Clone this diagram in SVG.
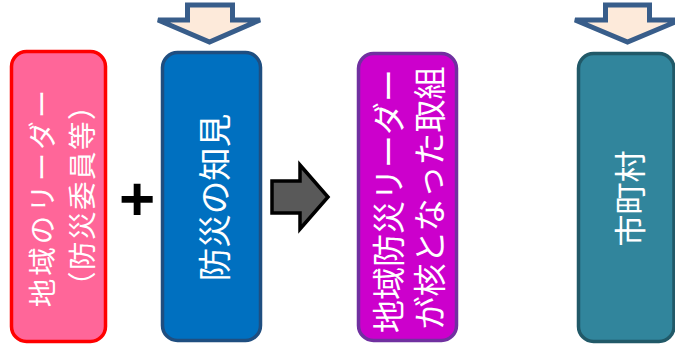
<svg xmlns="http://www.w3.org/2000/svg" width="675" height="356" viewBox="0 0 675 356">
<style>
.box{stroke-width:3.5}
.t{font-family:"Noto Sans CJK JP","Noto Sans",sans-serif;fill:#fff;text-anchor:middle;dominant-baseline:central}
.down{fill:#FDEADA;stroke:#385D8A;stroke-width:5;stroke-linejoin:miter}
</style>
<rect width="675" height="356" fill="#fff"/>
<g id="connectors">
<path class="down" d="M187.5,5 H232.5 V20 H260 L209.5,42 L158,20 H187.5 Z"/>
<path class="down" d="M605.5,5 H649.5 V20 H680 L627.5,42 L575,20 H605.5 Z"/>
<path id="arrow-right" d="M272,181 H300 V165 L328,197 L300,229 V213 H272 Z" fill="#595959" stroke="#000" stroke-width="3.5" stroke-linejoin="miter"/>
</g>
<g id="node-leader">
<rect class="box" x="11.5" y="51.5" width="94" height="290" rx="15" fill="#FF6699" stroke="#FF0000" stroke-width="4"/>
<text class="t" font-size="28.5" letter-spacing="3" transform="translate(40,197) rotate(-90)">地域のリーダー</text>
<text class="t" font-size="28.5" letter-spacing="1.5" transform="translate(80,195) rotate(-90)">（防災委員等）</text>
</g>
<g id="plus">
<text x="137" y="220" font-family="Liberation Sans, Arial, sans-serif" font-weight="bold" font-size="62" text-anchor="middle" fill="#000">+</text>
</g>
<g id="node-knowledge">
<rect class="box" x="162.5" y="52.5" width="98" height="288" rx="15" fill="#0070C0" stroke="#1F4E80"/>
<text class="t" font-size="33.5" transform="translate(212,197.5) rotate(-90)">防災の知見</text>
</g>
<g id="node-result">
<rect class="box" x="358.5" y="53.5" width="98" height="287" rx="15" fill="#CC00CC" stroke="#7030A0"/>
<text class="t" font-size="33" transform="translate(387,201) rotate(-90)">地域防災リーダー</text>
<text class="t" font-size="33" transform="translate(428,198) rotate(-90)">が核となった取組</text>
</g>
<g id="node-municipality">
<rect class="box" x="578.5" y="53.5" width="95.5" height="288" rx="15" fill="#31859C" stroke="#215968" stroke-width="4"/>
<text class="t" font-size="32" transform="translate(628,198.5) rotate(-90)">市町村</text>
</g>
</svg>
